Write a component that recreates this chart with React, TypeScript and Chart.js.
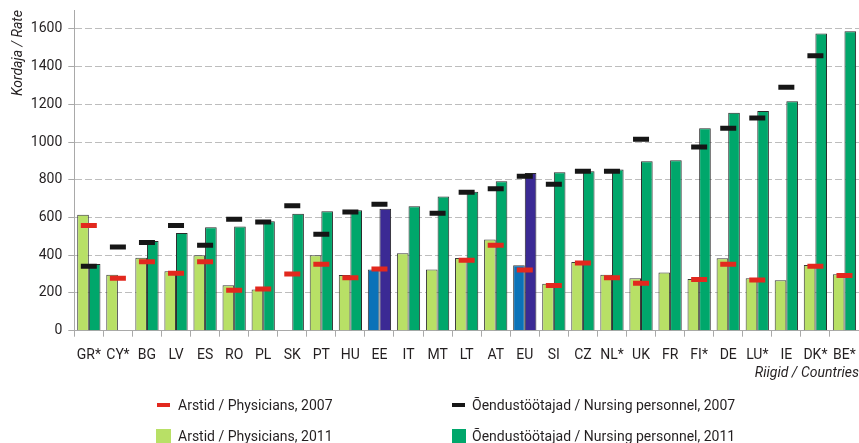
import React, { useEffect, useRef } from 'react';
import { Chart, registerables } from 'chart.js';

Chart.register(...registerables);

const categories = ['GR*', 'CY*', 'BG', 'LV', 'ES', 'RO', 'PL', 'SK', 'PT', 'HU', 'EE', 'IT', 'MT', 'LT', 'AT', 'EU', 'SI', 'CZ', 'NL*', 'UK', 'FR', 'FI*', 'DE', 'LU*', 'IE', 'DK*', 'BE*'];

const physicians2011 = [615, 297, 387, 315, 400, 241, 219, null, 400, 295, 325, 410, 325, 386, 483, 347, 249, 364, 297, 278, 308, 274, 384, 278, 267, 348, 299];
const nursing2011 = [354, null, 476, 518, 548, 552, 580, 620, 633, 638, 647, 660, 711, 737, 792, 836, 840, 845, 855, 898, 904, 1073, 1155, 1164, 1216, 1575, 1588];
const physicians2007 = [557, 278, 366, 304, 366, 214, 221, 301, 352, 281, 327, null, null, 373, 453, 322, 239, 359, 281, 251, null, 271, 352, 269, null, 341, 292];
const nursing2007 = [341, 444, 467, 557, 453, 591, 576, 663, 511, 629, 670, null, 622, 734, 753, 819, 776, 845, 845, 1015, null, 974, 1073, 1128, 1291, 1458, null];

const yTicks = [0, 200, 400, 600, 800, 1000, 1200, 1400, 1600];
const highlighted = ['EE', 'EU'];

const legendLabels = [
  'Arstid / Physicians, 2007',
  'Õendustöötajad / Nursing personnel, 2007',
  'Arstid / Physicians, 2011',
  'Õendustöötajad / Nursing personnel, 2011',
];

const FONT = 'Roboto, "DejaVu Sans", sans-serif';
const TEXT = '#231f20';
const RED = '#e2281e';
const BLACK = '#161616';
const LIGHT = '#b8e066';
const DARK = '#00a76b';
const BLUE = '#0b72b8';
const PURPLE = '#3b2a94';
const AXIS = '#a9a9a9';
const GRID = '#bdbdbd';

export default function App() {
  const ref = useRef<HTMLCanvasElement>(null);

  useEffect(() => {
    document.body.style.margin = '0';
    const canvas = ref.current;
    if (!canvas) return;
    const chart = new Chart(canvas, {
      type: 'bar',
      data: {
        labels: categories,
        datasets: [
          {
            type: 'line',
            label: legendLabels[0],
            data: physicians2007,
            showLine: false,
            pointStyle: 'line',
            pointRadius: 8,
            pointBorderWidth: 5,
            borderColor: RED,
            backgroundColor: RED,
            pointBorderColor: RED,
            pointBackgroundColor: RED,
            order: 0,
          } as any,
          {
            type: 'line',
            label: legendLabels[1],
            data: nursing2007,
            showLine: false,
            pointStyle: 'line',
            pointRadius: 8,
            pointBorderWidth: 5,
            borderColor: BLACK,
            backgroundColor: BLACK,
            pointBorderColor: BLACK,
            pointBackgroundColor: BLACK,
            order: 0,
          } as any,
          {
            type: 'bar',
            label: legendLabels[2],
            data: physicians2011,
            backgroundColor: categories.map((c) => (highlighted.includes(c) ? BLUE : LIGHT)),
            borderColor: '#3a3a3a',
            borderWidth: 1,
            categoryPercentage: 0.8,
            barPercentage: 1,
            order: 1,
          } as any,
          {
            type: 'bar',
            label: legendLabels[3],
            data: nursing2011,
            backgroundColor: categories.map((c) => (highlighted.includes(c) ? PURPLE : DARK)),
            borderColor: '#2a2a2a',
            borderWidth: 1,
            categoryPercentage: 0.8,
            barPercentage: 1,
            order: 1,
          } as any,
        ],
      },
      options: {
        responsive: false,
        animation: false,
        events: [],
        layout: { autoPadding: false, padding: { top: 10, left: 6, right: -2, bottom: 60.7 } },
        plugins: {
          legend: { display: false },
          tooltip: { enabled: false },
        },
        scales: {
          x: {
            offset: true,
            grid: { drawOnChartArea: false, drawTicks: true, tickLength: 6, tickColor: AXIS, offset: true },
            border: { color: AXIS, width: 1 },
            ticks: { font: { family: FONT, size: 14 }, color: TEXT, padding: 10, maxRotation: 0, autoSkip: false },
            title: {
              display: true,
              text: 'Riigid / Countries',
              align: 'end',
              font: { family: FONT, size: 14, style: 'italic' },
              color: TEXT,
              padding: { top: 2, bottom: 0 },
            },
            afterFit: (s: any) => {
              s.paddingLeft = 0;
              s.paddingRight = -2;
              s.height = 51.6;
            },
          },
          y: {
            min: 0,
            max: 1700,
            ticks: {
              stepSize: 200,
              font: { family: FONT, size: 14, lineHeight: 0.5 },
              color: TEXT,
              padding: 6,
              callback: (v: any) => String(v),
            },
            afterBuildTicks: (s: any) => {
              s.ticks = yTicks.map((v) => ({ value: v }));
            },
            grid: {
              color: (c: any) => (c.tick && c.tick.value === 0 ? 'rgba(0,0,0,0)' : GRID),
              tickColor: AXIS,
              tickLength: 6,
            },
            border: { color: AXIS, width: 1, dash: [7, 3] },
            title: {
              display: true,
              text: 'Kordaja / Rate',
              align: 'end',
              font: { family: FONT, size: 14, style: 'italic' },
              color: TEXT,
              padding: { top: 4, bottom: 4 },
            },
            afterFit: (s: any) => {
              s.paddingTop = 0;
              s.paddingRight = -2;
              s.width = 68.3;
            },
          },
        },
      } as any,
    });
    return () => chart.destroy();
  }, []);

  const textStyle: React.CSSProperties = {
    position: 'absolute',
    fontFamily: FONT,
    fontSize: '14px',
    lineHeight: '20px',
    color: TEXT,
    whiteSpace: 'nowrap',
  };

  return (
    <div style={{ position: 'fixed', left: 0, top: 0, width: 859, height: 443, overflow: 'hidden', background: '#fff' }}>
      <canvas ref={ref} width={859} height={443} style={{ display: 'block' }} />
      <div style={{ position: 'absolute', left: 157, top: 403, width: 13, height: 4, background: RED }} />
      <div style={{ ...textStyle, left: 178, top: 395 }}>{legendLabels[0]}</div>
      <div style={{ position: 'absolute', left: 452, top: 403, width: 13, height: 4, background: BLACK }} />
      <div style={{ ...textStyle, left: 472, top: 395 }}>{legendLabels[1]}</div>
      <div style={{ position: 'absolute', left: 156, top: 429, width: 15, height: 15, background: LIGHT }} />
      <div style={{ ...textStyle, left: 178, top: 426 }}>{legendLabels[2]}</div>
      <div style={{ position: 'absolute', left: 452, top: 429, width: 14, height: 15, background: DARK }} />
      <div style={{ ...textStyle, left: 472, top: 426 }}>{legendLabels[3]}</div>
    </div>
  );
}
